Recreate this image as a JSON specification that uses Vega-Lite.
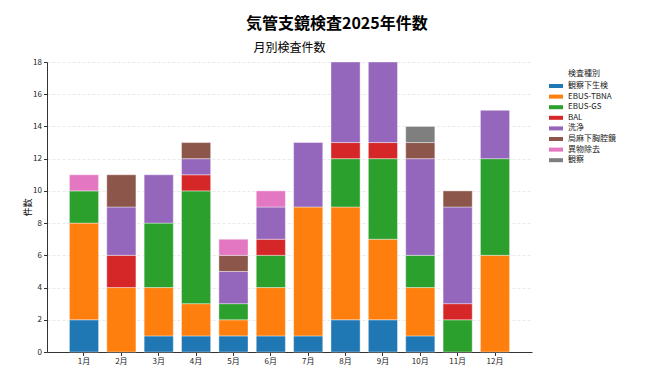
{
  "$schema": "https://vega.github.io/schema/vega-lite/v6.json",
  "padding": {"left": 23, "top": 16, "right": 5, "bottom": 5},
  "background": "white",
  "title": {"text": "気管支鏡検査2025年件数", "anchor": "middle", "fontSize": 16, "font": "Noto Sans CJK JP", "fontWeight": "bold", "color": "#000", "offset": 10, "dx": 13},
  "config": {
    "font": "Noto Sans CJK JP",
    "view": {"stroke": null},
    "axis": {"labelFont": "Noto Sans CJK JP", "labelFontSize": 8, "labelColor": "#222", "domainColor": "#333", "tickColor": "#333", "tickSize": 3.5, "titleFont": "Noto Sans CJK JP", "titleFontWeight": "normal", "titleColor": "#000"},
    "legend": {"labelFont": "Noto Sans CJK JP", "titleFont": "Noto Sans CJK JP"}
  },
  "vconcat": [
    {
      "title": {"text": "月別検査件数", "anchor": "middle", "fontSize": 12, "fontWeight": "normal", "font": "Noto Sans CJK JP", "color": "#000", "offset": 3},
      "width": 485,
      "height": 290,
      "data": {"values": [
        {"month": "1月", "type": "観察下生検", "count": 2},
        {"month": "1月", "type": "EBUS-TBNA", "count": 6},
        {"month": "1月", "type": "EBUS-GS", "count": 2},
        {"month": "1月", "type": "異物除去", "count": 1},
        {"month": "2月", "type": "EBUS-TBNA", "count": 4},
        {"month": "2月", "type": "BAL", "count": 2},
        {"month": "2月", "type": "洗浄", "count": 3},
        {"month": "2月", "type": "局麻下胸腔鏡", "count": 2},
        {"month": "3月", "type": "観察下生検", "count": 1},
        {"month": "3月", "type": "EBUS-TBNA", "count": 3},
        {"month": "3月", "type": "EBUS-GS", "count": 4},
        {"month": "3月", "type": "洗浄", "count": 3},
        {"month": "4月", "type": "観察下生検", "count": 1},
        {"month": "4月", "type": "EBUS-TBNA", "count": 2},
        {"month": "4月", "type": "EBUS-GS", "count": 7},
        {"month": "4月", "type": "BAL", "count": 1},
        {"month": "4月", "type": "洗浄", "count": 1},
        {"month": "4月", "type": "局麻下胸腔鏡", "count": 1},
        {"month": "5月", "type": "観察下生検", "count": 1},
        {"month": "5月", "type": "EBUS-TBNA", "count": 1},
        {"month": "5月", "type": "EBUS-GS", "count": 1},
        {"month": "5月", "type": "洗浄", "count": 2},
        {"month": "5月", "type": "局麻下胸腔鏡", "count": 1},
        {"month": "5月", "type": "異物除去", "count": 1},
        {"month": "6月", "type": "観察下生検", "count": 1},
        {"month": "6月", "type": "EBUS-TBNA", "count": 3},
        {"month": "6月", "type": "EBUS-GS", "count": 2},
        {"month": "6月", "type": "BAL", "count": 1},
        {"month": "6月", "type": "洗浄", "count": 2},
        {"month": "6月", "type": "異物除去", "count": 1},
        {"month": "7月", "type": "観察下生検", "count": 1},
        {"month": "7月", "type": "EBUS-TBNA", "count": 8},
        {"month": "7月", "type": "洗浄", "count": 4},
        {"month": "8月", "type": "観察下生検", "count": 2},
        {"month": "8月", "type": "EBUS-TBNA", "count": 7},
        {"month": "8月", "type": "EBUS-GS", "count": 3},
        {"month": "8月", "type": "BAL", "count": 1},
        {"month": "8月", "type": "洗浄", "count": 5},
        {"month": "9月", "type": "観察下生検", "count": 2},
        {"month": "9月", "type": "EBUS-TBNA", "count": 5},
        {"month": "9月", "type": "EBUS-GS", "count": 5},
        {"month": "9月", "type": "BAL", "count": 1},
        {"month": "9月", "type": "洗浄", "count": 5},
        {"month": "10月", "type": "観察下生検", "count": 1},
        {"month": "10月", "type": "EBUS-TBNA", "count": 3},
        {"month": "10月", "type": "EBUS-GS", "count": 2},
        {"month": "10月", "type": "洗浄", "count": 6},
        {"month": "10月", "type": "局麻下胸腔鏡", "count": 1},
        {"month": "10月", "type": "観察", "count": 1},
        {"month": "11月", "type": "EBUS-GS", "count": 2},
        {"month": "11月", "type": "BAL", "count": 1},
        {"month": "11月", "type": "洗浄", "count": 6},
        {"month": "11月", "type": "局麻下胸腔鏡", "count": 1},
        {"month": "12月", "type": "EBUS-TBNA", "count": 6},
        {"month": "12月", "type": "EBUS-GS", "count": 6},
        {"month": "12月", "type": "洗浄", "count": 3}
      ]},
      "transform": [
        {"calculate": "indexof(['観察下生検','EBUS-TBNA','EBUS-GS','BAL','洗浄','局麻下胸腔鏡','異物除去','観察'], datum.type)", "as": "k"}
      ],
      "mark": {"type": "bar", "stroke": "white", "strokeWidth": 0.4},
      "encoding": {
        "x": {"field": "month", "type": "ordinal",
          "sort": ["1月","2月","3月","4月","5月","6月","7月","8月","9月","10月","11月","12月"],
          "scale": {"paddingInner": 0.22, "paddingOuter": 0.6},
          "axis": {"title": null, "labelAngle": 0, "grid": false}},
        "y": {"field": "count", "type": "quantitative", "aggregate": "sum",
          "scale": {"domain": [0, 18], "nice": false},
          "axis": {"title": "件数", "titleFontSize": 9, "titlePadding": 0, "values": [0,2,4,6,8,10,12,14,16,18], "grid": true, "gridColor": "#e4e4e4", "gridDash": [3, 2], "gridWidth": 0.8}},
        "color": {"field": "type", "type": "nominal",
          "scale": {"domain": ["観察下生検","EBUS-TBNA","EBUS-GS","BAL","洗浄","局麻下胸腔鏡","異物除去","観察"],
                    "range": ["#1f77b4","#ff7f0e","#2ca02c","#d62728","#9467bd","#8c564b","#e377c2","#7f7f7f"]},
          "legend": {"title": "検査種別", "titleFontSize": 8, "titleFontWeight": "normal", "titleColor": "#222", "titleAnchor": "middle", "titlePadding": 4,
                     "labelFontSize": 8, "labelColor": "#222", "symbolType": "M-1.75,-0.5H1.75V0.5H-1.75Z", "symbolSize": 64, "symbolStrokeWidth": 0, "labelOffset": 8, "rowPadding": 2.6, "offset": 12, "padding": 8}},
        "order": {"field": "k", "type": "quantitative", "sort": "ascending"}
      }
    }
  ]
}
